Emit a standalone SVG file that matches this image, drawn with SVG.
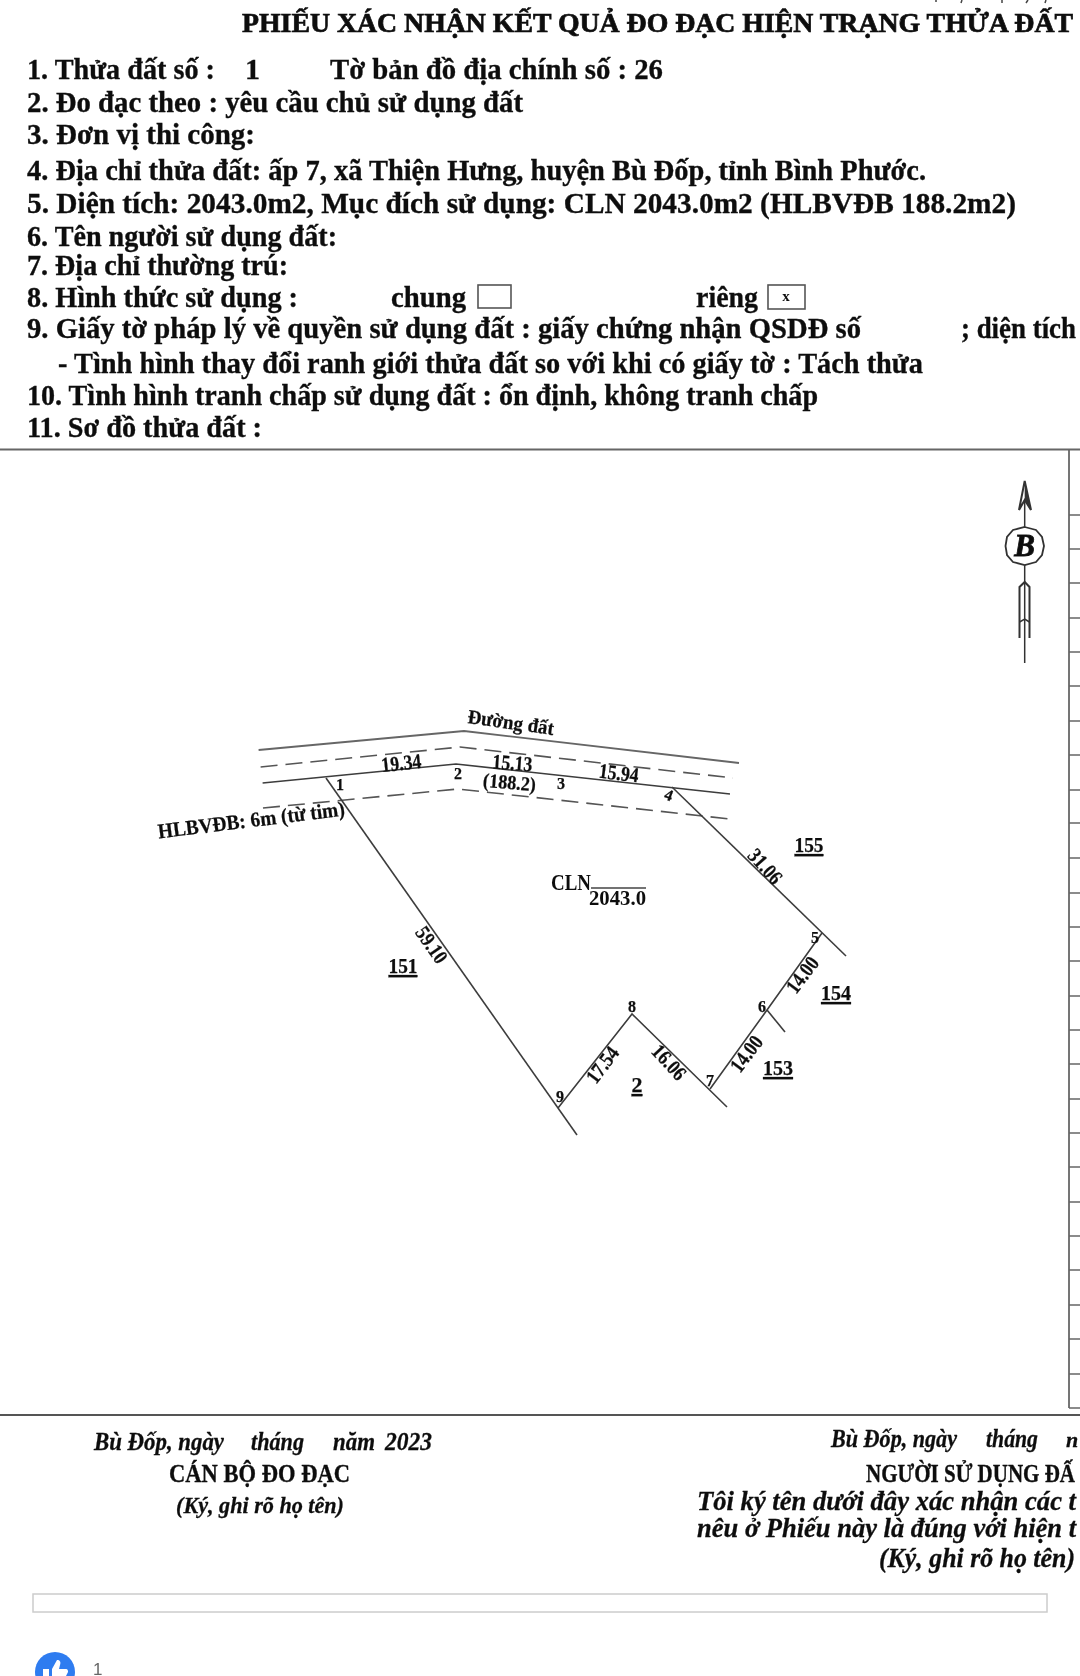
<svg xmlns="http://www.w3.org/2000/svg" width="1080" height="1676" viewBox="0 0 1080 1676">
<style>
text{font-family:"Liberation Serif","Times New Roman",serif;fill:#111}
.t{font-size:30px;font-weight:bold;stroke:#111;stroke-width:.35}
.h{font-size:27px;font-weight:bold;stroke:#111;stroke-width:.7}
.i{font-size:25px;font-weight:bold;font-style:italic;stroke:#111;stroke-width:.3}
.d{font-size:21px;font-weight:bold;text-anchor:middle;stroke:#111;stroke-width:.25}
.p{font-size:16px;font-weight:bold;text-anchor:middle;stroke:#111;stroke-width:.25}
.u{text-decoration:underline;font-size:22px}
.s{fill:none;stroke:#3c3c3c;stroke-width:1.6}
.a{fill:none;stroke:#555;stroke-width:1.6;stroke-dasharray:17 8}
.r{fill:none;stroke:#666;stroke-width:1.8}
</style>
<defs><filter id="soft" x="0" y="0" width="100%" height="100%"><feGaussianBlur stdDeviation="0.45"/></filter></defs>
<rect width="1080" height="1676" fill="#fff"/>
<g filter="url(#soft)">
<g id="header">
<path d="M936 0v2M962 0l-1 3M1002 0v3M1028 0l-2 3M1046 0l-1 3" stroke="#444" stroke-width="1.500" fill="none"/>
<text class="h" x="242" y="32" textLength="831" lengthAdjust="spacingAndGlyphs">PHIẾU XÁC NHẬN KẾT QUẢ ĐO ĐẠC HIỆN TRẠNG THỬA ĐẤT</text>
<text class="t" x="27" y="79" textLength="188" lengthAdjust="spacingAndGlyphs">1. Thửa đất số :</text>
<text class="t" x="245" y="79">1</text>
<text class="t" x="330" y="79" textLength="333" lengthAdjust="spacingAndGlyphs">Tờ bản đồ địa chính số : 26</text>
<text class="t" x="27" y="112" textLength="496" lengthAdjust="spacingAndGlyphs">2. Đo đạc theo : yêu cầu chủ sử dụng đất</text>
<text class="t" x="27" y="144" textLength="228" lengthAdjust="spacingAndGlyphs">3. Đơn vị thi công:</text>
<text class="t" x="27" y="180" textLength="899" lengthAdjust="spacingAndGlyphs">4. Địa chỉ thửa đất: ấp 7, xã Thiện Hưng, huyện Bù Đốp, tỉnh Bình Phước.</text>
<text class="t" x="27" y="213" textLength="989" lengthAdjust="spacingAndGlyphs">5. Diện tích: 2043.0m2, Mục đích sử dụng: CLN 2043.0m2 (HLBVĐB 188.2m2)</text>
<text class="t" x="27" y="246" textLength="310" lengthAdjust="spacingAndGlyphs">6. Tên người sử dụng đất:</text>
<text class="t" x="27" y="275" textLength="261" lengthAdjust="spacingAndGlyphs">7. Địa chỉ thường trú:</text>
<text class="t" x="27" y="307" textLength="271" lengthAdjust="spacingAndGlyphs">8. Hình thức sử dụng :</text>
<text class="t" x="391" y="307" textLength="75" lengthAdjust="spacingAndGlyphs">chung</text>
<rect x="478" y="285" width="33" height="23" fill="#fff" stroke="#555" stroke-width="1.6"/>
<text class="t" x="696" y="307" textLength="62" lengthAdjust="spacingAndGlyphs">riêng</text>
<rect x="768" y="285" width="37" height="24" fill="#fff" stroke="#555" stroke-width="1.6"/>
<text x="786" y="301" style="font-size:15px;font-weight:bold;text-anchor:middle">x</text>
<text class="t" x="27" y="338" textLength="834" lengthAdjust="spacingAndGlyphs">9. Giấy tờ pháp lý về quyền sử dụng đất : giấy chứng nhận QSDĐ số</text>
<text class="t" x="961" y="338" textLength="115" lengthAdjust="spacingAndGlyphs">; diện tích</text>
<text class="t" x="58" y="373" textLength="865" lengthAdjust="spacingAndGlyphs">- Tình hình thay đổi ranh giới thửa đất so với khi có giấy tờ : Tách thửa</text>
<text class="t" x="27" y="405" textLength="791" lengthAdjust="spacingAndGlyphs">10. Tình hình tranh chấp sử dụng đất : ổn định, không tranh chấp</text>
<text class="t" x="27" y="437" textLength="235" lengthAdjust="spacingAndGlyphs">11. Sơ đồ thửa đất :</text>
</g>
<g id="frame">
<line x1="0" y1="449.500" x2="1080" y2="449.500" stroke="#666" stroke-width="2"/>
<line x1="0" y1="1415" x2="1080" y2="1415" stroke="#555" stroke-width="2"/>
<line x1="1069" y1="449" x2="1069" y2="1408" stroke="#666" stroke-width="1.800"/>
<path stroke="#666" stroke-width="1.500" fill="none" d="M1069 515H1080M1069 549H1080M1069 583H1080M1069 618H1080M1069 652H1080M1069 686H1080M1069 721H1080M1069 755H1080M1069 790H1080M1069 823H1080M1069 858H1080M1069 893H1080M1069 927H1080M1069 961H1080M1069 996H1080M1069 1030H1080M1069 1064H1080M1069 1099H1080M1069 1133H1080M1069 1167H1080M1069 1202H1080M1069 1236H1080M1069 1270H1080M1069 1305H1080M1069 1339H1080M1069 1374H1080M1069 1408H1080"/>
</g>
<g id="north-arrow" fill="none" stroke="#333" stroke-width="1.500">
<path d="M1024.700 481L1019 510L1024.700 500L1031 510Z" stroke-width="2"/>
<path d="M1024.700 481L1031 510L1024.700 500Z" fill="#333" stroke="none"/>
<line x1="1024.700" y1="500" x2="1024.700" y2="528"/>
<path d="M1024.700 527L1036 530L1042 537L1044 546L1042 555L1036 562L1024.700 565L1013 562L1007 555L1005.500 546L1007 537L1013 530Z" stroke-width="1.800"/>
<line x1="1024.700" y1="565" x2="1024.700" y2="663"/>
<path d="M1019.500 638V587L1024.700 582L1029.500 587V638" stroke-width="2"/>
<path d="M1019.500 622L1024.700 619L1029.500 622"/>
<text x="1024.700" y="556" style="font-size:31px;font-weight:bold;font-style:italic;text-anchor:middle;fill:#111;stroke:#111;stroke-width:.8">B</text>
</g>
<g id="road">
<polyline class="r" points="258.600,750 464,731 739,763"/>
<polyline class="a" points="260.600,767 460,747 733,778"/>
<polyline class="s" points="262.600,783 456,764 730,794"/>
<polyline class="a" points="263,808 458,789 730,819"/>
</g>
<g id="parcel">
<polyline class="s" points="326,778 577,1135"/>
<polyline class="s" points="672,787 846,956"/>
<polyline class="s" points="822,933 767,1010 710,1089"/>
<line class="s" x1="767" y1="1010" x2="785" y2="1032"/>
<polyline class="s" points="558,1108 632,1014 727,1107"/>
</g>
<g id="labels">
<text class="d" transform="translate(510 729) rotate(8)" textLength="87" lengthAdjust="spacingAndGlyphs" style="font-size:20px">Đường đất</text>
<text class="d" transform="translate(402 770) rotate(-6)" textLength="40" lengthAdjust="spacingAndGlyphs">19.34</text>
<text class="d" transform="translate(512 770) rotate(4)" textLength="40" lengthAdjust="spacingAndGlyphs">15.13</text>
<text class="d" transform="translate(509 789) rotate(5)" textLength="53" lengthAdjust="spacingAndGlyphs" style="font-size:20px">(188.2)</text>
<text class="d" transform="translate(618 780) rotate(7)" textLength="40" lengthAdjust="spacingAndGlyphs">15.94</text>
<text class="p" x="340" y="790">1</text>
<text class="p" x="458" y="779">2</text>
<text class="p" x="561" y="789">3</text>
<text class="p" transform="translate(667 800) rotate(20)">4</text>
<text class="d" transform="translate(252 827) rotate(-7)" textLength="188" lengthAdjust="spacingAndGlyphs">HLBVĐB: 6m (từ tim)</text>
<text x="551" y="890" textLength="40" lengthAdjust="spacingAndGlyphs" style="font-size:23px;font-weight:bold">CLN</text>
<line x1="591" y1="888" x2="646" y2="888" stroke="#444" stroke-width="1.500"/>
<text x="589" y="905" style="font-size:22px;font-weight:bold" textLength="57" lengthAdjust="spacingAndGlyphs">2043.0</text>
<text class="d" transform="translate(426 949) rotate(55)" textLength="40" lengthAdjust="spacingAndGlyphs">59.10</text>
<text class="d u" x="403" y="973" textLength="29" lengthAdjust="spacingAndGlyphs">151</text>
<text class="d" transform="translate(760 871) rotate(48)" textLength="40" lengthAdjust="spacingAndGlyphs">31.06</text>
<text class="d u" x="809" y="852" textLength="29" lengthAdjust="spacingAndGlyphs">155</text>
<text class="p" x="815" y="943">5</text>
<text class="p" x="762" y="1012">6</text>
<text class="p" x="710" y="1086">7</text>
<text class="p" x="632" y="1012">8</text>
<text class="p" x="560" y="1102">9</text>
<text class="d" transform="translate(808 979) rotate(-53)" textLength="40" lengthAdjust="spacingAndGlyphs">14.00</text>
<text class="d u" x="836" y="1000" textLength="30" lengthAdjust="spacingAndGlyphs">154</text>
<text class="d" transform="translate(608 1069) rotate(-53)" textLength="40" lengthAdjust="spacingAndGlyphs">17.54</text>
<text class="d" transform="translate(664 1067) rotate(47)" textLength="40" lengthAdjust="spacingAndGlyphs">16.06</text>
<text class="d" transform="translate(752 1058) rotate(-53)" textLength="40" lengthAdjust="spacingAndGlyphs">14.00</text>
<text class="d u" x="778" y="1075" textLength="30" lengthAdjust="spacingAndGlyphs">153</text>
<text class="d u" x="637" y="1092">2</text>
</g>
<g id="signature-left">
<text class="i" x="94" y="1450" textLength="130" lengthAdjust="spacingAndGlyphs">Bù Đốp, ngày</text>
<text class="i" x="251" y="1450" textLength="53" lengthAdjust="spacingAndGlyphs">tháng</text>
<text class="i" x="333" y="1450" textLength="42" lengthAdjust="spacingAndGlyphs">năm</text>
<text class="i" x="385" y="1450" textLength="47" lengthAdjust="spacingAndGlyphs">2023</text>
<text class="t" x="169" y="1482" textLength="181" lengthAdjust="spacingAndGlyphs" style="font-size:25px">CÁN BỘ ĐO ĐẠC</text>
<text class="i" x="176" y="1513" textLength="168" lengthAdjust="spacingAndGlyphs" style="font-size:23px">(Ký, ghi rõ họ tên)</text>
</g>
<g id="signature-right">
<text class="i" x="831" y="1447" textLength="126" lengthAdjust="spacingAndGlyphs">Bù Đốp, ngày</text>
<text class="i" x="986" y="1447" textLength="52" lengthAdjust="spacingAndGlyphs">tháng</text>
<text class="i" x="1066" y="1447" style="font-size:22px">n</text>
<text class="t" x="866" y="1482" textLength="209" lengthAdjust="spacingAndGlyphs" style="font-size:25px">NGƯỜI SỬ DỤNG ĐẤ</text>
<text class="i" x="697" y="1510" textLength="379" lengthAdjust="spacingAndGlyphs" style="font-size:27px">Tôi ký tên dưới đây xác nhận các t</text>
<text class="i" x="697" y="1537" textLength="379" lengthAdjust="spacingAndGlyphs" style="font-size:27px">nêu ở Phiếu này là đúng với hiện t</text>
<text class="i" x="879" y="1567" textLength="196" lengthAdjust="spacingAndGlyphs" style="font-size:27px">(Ký, ghi rõ họ tên)</text>
</g>
<rect id="comment-box" x="33" y="1594" width="1014" height="18" fill="#fff" stroke="#ccc" stroke-width="1.500"/>
<g id="reaction">
<circle cx="55" cy="1672" r="20" fill="#2f7cf0"/>
<path d="M43 1669h6v7h-6zM52 1669l5-9c3 0 4 2 3 5l-1 4h7c2 0 2 2 2 3l-2 4H52z" fill="#fff"/>
<text x="93" y="1675" style="font-family:'Liberation Sans',sans-serif;font-size:17px;fill:#666">1</text>
</g>
</g>
</svg>
